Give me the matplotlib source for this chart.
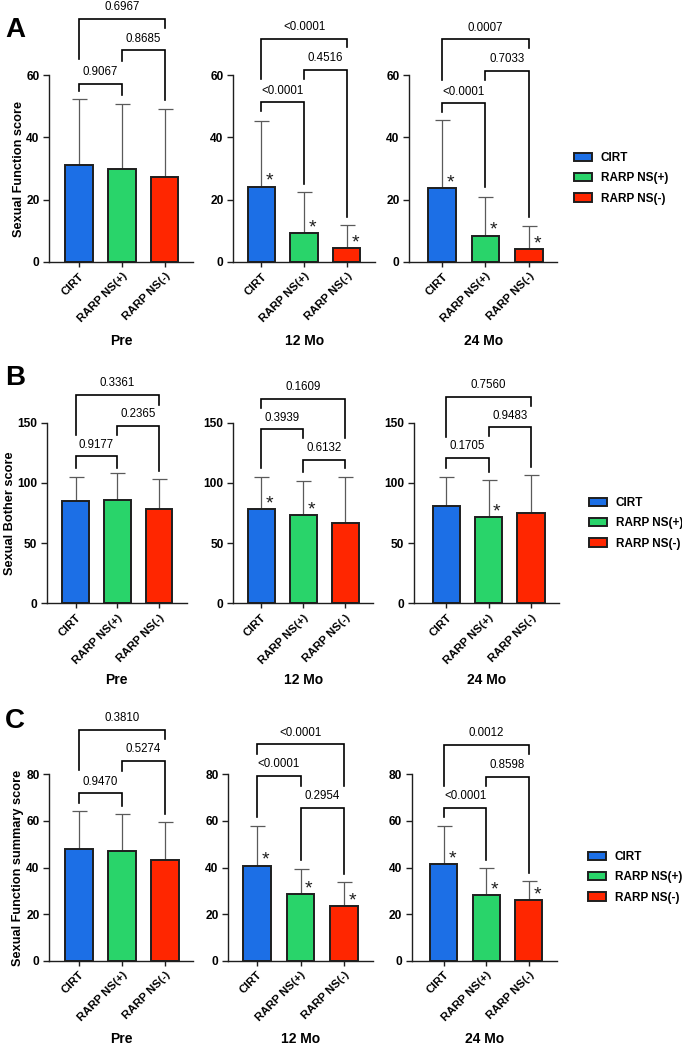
import matplotlib
matplotlib.use('Agg')
import matplotlib.pyplot as plt
from matplotlib.patches import Patch

plt.rcParams['font.family'] = ['Liberation Sans', 'DejaVu Sans']

groups = ['CIRT', 'RARP NS(+)', 'RARP NS(-)']
times = ['Pre', '12 Mo', '24 Mo']
colors = ['#1c6fe6', '#29d46a', '#ff2600']

# means and upper SD, one row per time point
sf_mean = [[31.1, 29.7, 27.3], [24.2, 9.2, 4.6], [23.8, 8.5, 4.2]]
sf_sd = [[21.1, 21.1, 21.7], [21.2, 13.1, 7.2], [21.7, 12.2, 7.2]]
sb_mean = [[85.1, 86.0, 78.2], [78.6, 73.1, 66.4], [80.6, 71.9, 74.7]]
sb_sd = [[20.1, 22.0, 25.4], [26.6, 28.7, 38.8], [24.6, 30.2, 32.1]]
ss_mean = [[47.8, 47.2, 43.4], [40.8, 28.6, 23.6], [41.4, 28.2, 26.0]]
ss_sd = [[16.6, 15.8, 16.1], [17.1, 10.8, 10.0], [16.5, 11.7, 8.1]]

# significance vs Pre
sf_star = [[0, 0, 0], [1, 1, 1], [1, 1, 1]]
sb_star = [[0, 0, 0], [1, 1, 0], [0, 1, 0]]
ss_star = [[0, 0, 0], [1, 1, 1], [1, 1, 1]]

# p values for pairs (CIRT, NS+), (NS+, NS-), (CIRT, NS-)
pairs = [(0, 1), (1, 2), (0, 2)]
sf_p = [['0.9067', '0.8685', '0.6967'], ['<0.0001', '0.4516', '<0.0001'], ['<0.0001', '0.7033', '0.0007']]
sb_p = [['0.9177', '0.2365', '0.3361'], ['0.3939', '0.6132', '0.1609'], ['0.1705', '0.9483', '0.7560']]
ss_p = [['0.9470', '0.5274', '0.3810'], ['<0.0001', '0.2954', '<0.0001'], ['<0.0001', '0.8598', '0.0012']]

# bracket layout: (bar height, left leg end, right leg end)
sf_br = [[(57.1, 54.9, 53.6), (68.0, 64.5, 52.0), (78.0, 65.0, 75.0)],
         [(51.3, 48.3, 24.9), (61.6, 58.6, 14.3), (71.7, 58.6, 69.0)],
         [(50.9, 48.0, 24.0), (61.3, 58.4, 14.3), (71.5, 58.4, 68.8)]]
sb_br = [[(122, 112, 112), (147.3, 139.8, 109.6), (173.2, 140, 164.7)],
         [(144.5, 112, 137.5), (119, 109.3, 112), (170, 162.5, 137)],
         [(121, 112, 109.3), (146.2, 139, 113.5), (171.6, 138.4, 163.9)]]
ss_br = [[(71.8, 67.8, 66.4), (85.7, 81.6, 62.8), (99, 81.8, 95)],
         [(79.3, 61.8, 75), (65.7, 43.2, 37.2), (92.9, 88.7, 75)],
         [(65.7, 61.8, 43.2), (79, 75, 37.5), (92.6, 75, 88.7)]]

rows = [
    ('A', 'Sexual Function score', sf_mean, sf_sd, sf_star, sf_p, sf_br, [0, 20, 40, 60]),
    ('B', 'Sexual Bother score', sb_mean, sb_sd, sb_star, sb_p, sb_br, [0, 50, 100, 150]),
    ('C', 'Sexual Function summary score', ss_mean, ss_sd, ss_star, ss_p, ss_br, [0, 20, 40, 60, 80]),
]

W, H = 682, 1050
row_y = [(75, 262), (422.7, 603.3), (774.3, 960.7)]
col_x = [[(49.3, 193), (233.3, 375), (409.3, 557.3)],
         [(46.7, 186.7), (233.3, 373.3), (414, 559)],
         [(49.3, 193.3), (228.3, 372.7), (411.7, 556.7)]]
xlims = [(-0.69, 2.66), (-0.66, 2.66), (-0.76, 2.66)]
ylab_x = [-0.168, -0.216, -0.179]
letter_y = [17, 365, 708]
legend_pos = [(574, 152), (589, 497), (588, 851)]

fig = plt.figure(figsize=(W / 100, H / 100), dpi=100)
dark = '#1e1e1e'

for r, (letter, ylabel, mean, sd, star, pv, br, yt) in enumerate(rows):
    top, bot = row_y[r]
    for c in range(3):
        l, rt = col_x[r][c]
        ax = fig.add_axes([l / W, 1 - bot / H, (rt - l) / W, (bot - top) / H])
        x = [0, 1, 2]
        ax.bar(x, mean[c], width=0.64, color=colors, edgecolor=dark, linewidth=1.4, zorder=2)
        ax.errorbar(x, mean[c], yerr=[[0, 0, 0], sd[c]], fmt='none', ecolor='#5a5a5a',
                    elinewidth=0.9, capsize=5.4, capthick=0.9, zorder=1)
        for k in range(3):
            if star[c][k]:
                ax.annotate('*', xy=(k, mean[c][k]), xytext=(6, 0.5), textcoords='offset points',
                            ha='center', va='baseline', fontsize=14, color=dark)
        for (i, j), lab, (yb, yl, yr) in zip(pairs, pv[c], br[c]):
            ax.plot([i, i, j, j], [yl, yb, yb, yr], color='black', lw=1.2, clip_on=False,
                    solid_joinstyle='miter')
            ax.annotate(lab, xy=((i + j) / 2, yb), xytext=(0, 4), textcoords='offset points',
                        ha='center', va='bottom', fontsize=8.3, annotation_clip=False)
        ax.set_xlim(xlims[c])
        ax.set_ylim(0, yt[-1])
        ax.set_yticks(yt)
        ax.set_xticks(x)
        ax.set_xticklabels(groups, rotation=45, ha='right', rotation_mode='anchor',
                           fontsize=8.2, fontweight='bold')
        for t in ax.get_yticklabels():
            t.set_fontweight('bold')
            t.set_fontsize(8.6)
        ax.spines[['top', 'right']].set_visible(False)
        for s in ['left', 'bottom']:
            ax.spines[s].set_color(dark)
            ax.spines[s].set_linewidth(1.0)
        ax.tick_params(axis='y', length=4, width=1, color=dark, pad=3)
        ax.tick_params(axis='x', length=3.6, width=1, color=dark, pad=3)
        ax.set_xlabel(times[c], fontsize=10, fontweight='bold')
        ax.xaxis.set_label_coords(0.5, -0.385)
        if c == 0:
            ax.set_ylabel(ylabel, fontsize=9.2, fontweight='bold')
            ax.yaxis.set_label_coords(ylab_x[r], 0.5)

    fig.text(5 / W, 1 - letter_y[r] / H, letter, fontsize=20, fontweight='bold', va='top', ha='left')

    handles = [Patch(facecolor=col, edgecolor=dark, linewidth=1.4) for col in colors]
    lx, ly = legend_pos[r]
    fig.legend(handles, groups, loc='upper left', bbox_to_anchor=(lx / W, 1 - ly / H),
               frameon=False, prop={'weight': 'bold', 'size': 8.5}, handlelength=1.55,
               handleheight=0.75, handletextpad=0.7, labelspacing=0.7, borderpad=0,
               borderaxespad=0)

fig.savefig('out.png', dpi=100)
